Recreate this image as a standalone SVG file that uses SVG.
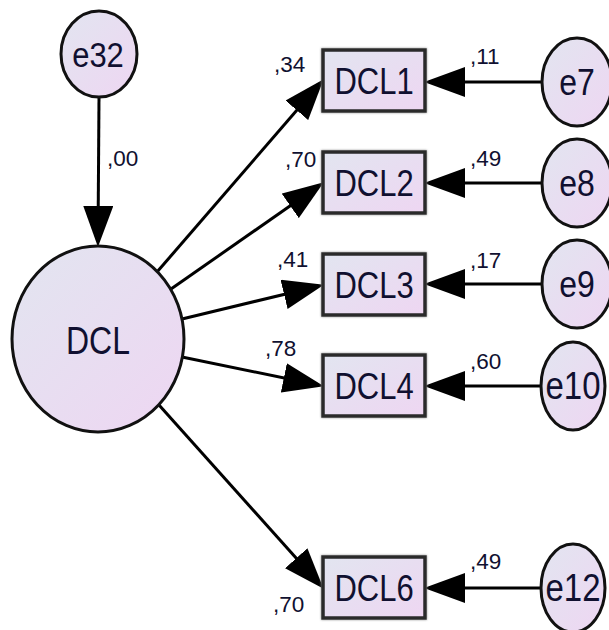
<svg xmlns="http://www.w3.org/2000/svg" width="609" height="630" viewBox="0 0 609 630">
<defs>
<linearGradient id="g" x1="0" y1="0" x2="1" y2="1">
<stop offset="0" stop-color="#e2e5f0"/>
<stop offset="1" stop-color="#eed6f2"/>
</linearGradient>
<marker id="ah" markerUnits="userSpaceOnUse" markerWidth="42" markerHeight="30" refX="35" refY="15" orient="auto" viewBox="0 0 42 30">
<path d="M0,0 L41,15 L0,30 z" fill="#000"/>
</marker>
<filter id="sh" x="-10%" y="-10%" width="120%" height="120%">
<feGaussianBlur in="SourceAlpha" stdDeviation="1.2"/>
<feOffset dx="0" dy="0" result="b"/>
<feFlood flood-color="#888"/>
<feComposite in2="b" operator="in"/>
<feMerge><feMergeNode/><feMergeNode in="SourceGraphic"/></feMerge>
</filter>
</defs>
<style>
.n{fill:url(#g);stroke:#111;stroke-width:3}
.b{fill:url(#g);stroke:#2a2a2a;stroke-width:3.5}
.t{font-family:"Liberation Sans",Arial,sans-serif;fill:#101030;text-anchor:middle}
.l{font-family:"Liberation Sans",Arial,sans-serif;fill:#101030;font-size:22.5px}
.c line{stroke:#000;stroke-width:3;marker-end:url(#ah)}
</style>
<g class="c" id="connectors">
<line x1="99" y1="98" x2="98" y2="241"/>
<line x1="157" y1="272" x2="319.7" y2="83.8"/>
<line x1="171" y1="289" x2="318.9" y2="185.8"/>
<line x1="182" y1="319" x2="318.1" y2="286.2"/>
<line x1="182" y1="357" x2="318.1" y2="385"/>
<line x1="159" y1="405" x2="319.6" y2="584.3"/>
<line x1="542" y1="82" x2="430" y2="82"/>
<line x1="542" y1="183" x2="430" y2="183"/>
<line x1="542" y1="284" x2="430" y2="284"/>
<line x1="542" y1="386" x2="430" y2="386"/>
<line x1="542" y1="588" x2="430" y2="588"/>
</g>
<g id="e32"><ellipse class="n" cx="99" cy="54" rx="38" ry="43"/><text class="t" transform="translate(98,67) scale(1,1.15)" font-size="31">e32</text></g>
<g id="DCL"><ellipse class="n" cx="98" cy="339" rx="86" ry="93"/><text class="t" transform="translate(98,354) scale(1,1.2)" font-size="32">DCL</text></g>
<g id="DCL1"><rect class="b" x="323" y="50" width="102" height="61" filter="url(#sh)"/><text class="t" transform="translate(374,94) scale(1,1.2)" font-size="31">DCL1</text></g>
<g id="DCL2"><rect class="b" x="323" y="152" width="102" height="61" filter="url(#sh)"/><text class="t" transform="translate(374,196) scale(1,1.2)" font-size="31">DCL2</text></g>
<g id="DCL3"><rect class="b" x="323" y="254" width="102" height="61" filter="url(#sh)"/><text class="t" transform="translate(374,298) scale(1,1.2)" font-size="31">DCL3</text></g>
<g id="DCL4"><rect class="b" x="323" y="355" width="102" height="61" filter="url(#sh)"/><text class="t" transform="translate(374,399) scale(1,1.2)" font-size="31">DCL4</text></g>
<g id="DCL6"><rect class="b" x="323" y="557" width="102" height="61" filter="url(#sh)"/><text class="t" transform="translate(374,601) scale(1,1.2)" font-size="31">DCL6</text></g>
<g id="e7"><ellipse class="n" cx="577" cy="82" rx="35" ry="44"/><text class="t" transform="translate(577,95) scale(1,1.18)" font-size="32">e7</text></g>
<g id="e8"><ellipse class="n" cx="577" cy="183" rx="35" ry="44"/><text class="t" transform="translate(577,196) scale(1,1.18)" font-size="32">e8</text></g>
<g id="e9"><ellipse class="n" cx="577" cy="284" rx="35" ry="44"/><text class="t" transform="translate(577,297) scale(1,1.18)" font-size="32">e9</text></g>
<g id="e10"><ellipse class="n" cx="573" cy="386" rx="32" ry="44"/><text class="t" transform="translate(573,399) scale(1,1.18)" font-size="33">e10</text></g>
<g id="e12"><ellipse class="n" cx="573" cy="588" rx="32" ry="44"/><text class="t" transform="translate(573,601) scale(1,1.18)" font-size="33">e12</text></g>
<g id="labels">
<text class="l" x="107" y="166">,00</text>
<text class="l" x="274" y="72">,34</text>
<text class="l" x="285" y="167">,70</text>
<text class="l" x="277" y="267">,41</text>
<text class="l" x="265" y="356">,78</text>
<text class="l" x="273" y="612">,70</text>
<text class="l" x="470" y="64">,11</text>
<text class="l" x="470" y="166">,49</text>
<text class="l" x="470" y="268">,17</text>
<text class="l" x="470" y="369">,60</text>
<text class="l" x="470" y="569">,49</text>
</g>
</svg>
